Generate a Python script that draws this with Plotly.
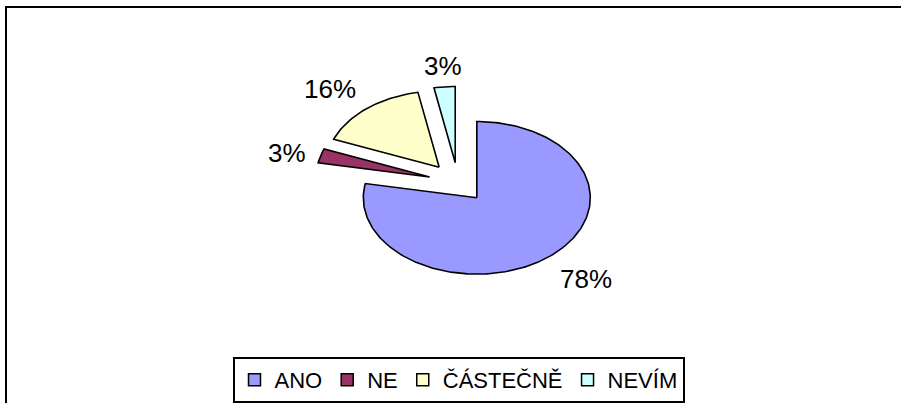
import math
import plotly.graph_objects as go

# Survey answers and their shares (%)
categories = ["ANO", "NE", "ČÁSTEČNĚ", "NEVÍM"]
shares = [78, 3, 16, 3]
colors = ["#9999FF", "#993366", "#FFFFCC", "#CCFFFF"]
label_texts = [f"{v}%" for v in shares]

explode = 0.26      # every slice pulled out from the centre (radius units)
label_gap = 0.12    # distance of labels outside the exploded rim

# pixel geometry of the (horizontally stretched) pie
W, H = 901, 403
cx_px, cy_px = 458, 183      # pie centre, from the left / top edge
rx_px, ry_px = 113.5, 76.5   # radii in pixels

fig = go.Figure()
total = sum(shares)
start = 0.0
annotations = []
for name, val, col, txt in zip(categories, shares, colors, label_texts):
    a0 = start / total * 2 * math.pi
    a1 = (start + val) / total * 2 * math.pi
    mid = (a0 + a1) / 2
    dx, dy = math.sin(mid), math.cos(mid)
    ox, oy = explode * dx, explode * dy
    n = max(4, int(val * 3))
    xs = [ox]
    ys = [oy]
    for i in range(n + 1):
        t = a0 + (a1 - a0) * i / n
        xs.append(ox + math.sin(t))
        ys.append(oy + math.cos(t))
    xs.append(ox)
    ys.append(oy)
    fig.add_trace(go.Scatter(
        x=xs, y=ys, mode="lines", fill="toself", fillcolor=col,
        line=dict(color="black", width=1.6), showlegend=False, hoverinfo="skip",
    ))
    # legend entry with a square swatch
    fig.add_trace(go.Scatter(
        x=[None], y=[None], mode="markers", name=name,
        marker=dict(symbol="square", size=12, color=col,
                    line=dict(color="black", width=1.5)),
    ))
    r = 1 + explode + label_gap
    xa = "center" if abs(dx) < 0.3 else ("left" if dx > 0 else "right")
    ya = "middle" if abs(dy) < 0.5 else ("bottom" if dy > 0 else "top")
    shift = {"bottom": -5, "top": 2, "middle": 0}[ya]
    annotations.append(dict(
        x=r * dx, y=r * dy, xref="x", yref="y", text=txt, showarrow=False,
        xanchor=xa, yanchor=ya, yshift=shift,
        font=dict(family="Liberation Sans, Arial", size=26, color="black"),
    ))
    start += val

# outer chart frame
shapes = [dict(type="rect", xref="paper", yref="paper",
               x0=6 / W, x1=1.05, y0=-0.05, y1=1 - 7 / H,
               line=dict(color="black", width=2), fillcolor="rgba(0,0,0,0)")]

fig.update_layout(
    width=W, height=H,
    margin=dict(l=0, r=0, t=0, b=0),
    paper_bgcolor="white", plot_bgcolor="white",
    xaxis=dict(range=[-cx_px / rx_px, (W - cx_px) / rx_px], visible=False,
               fixedrange=True, domain=[0, 1]),
    yaxis=dict(range=[-(H - cy_px) / ry_px, cy_px / ry_px], visible=False,
               fixedrange=True, domain=[0, 1]),
    annotations=annotations,
    shapes=shapes,
    showlegend=True,
    legend=dict(
        orientation="h", x=458.5 / W, xanchor="center",
        y=1 - 358 / H, yanchor="top",
        bordercolor="black", borderwidth=2, bgcolor="white",
        font=dict(family="Liberation Sans, Arial", size=22, color="black"),
        itemwidth=30, tracegroupgap=0,
    ),
)

fig.write_html("out.html")
